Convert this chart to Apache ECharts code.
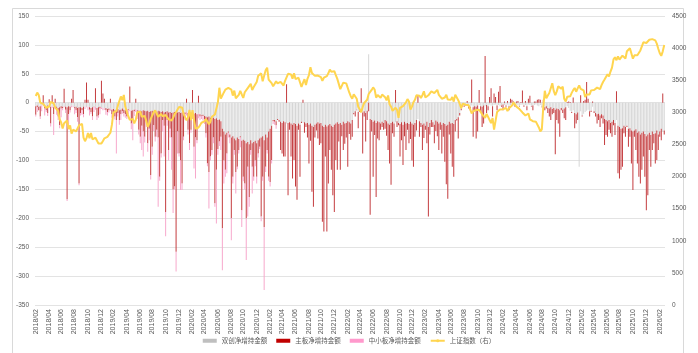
<!DOCTYPE html>
<html>
<head>
<meta charset="utf-8">
<script src="https://cdn.jsdelivr.net/npm/echarts@6/dist/echarts.min.js"></script>
<style>
  html, body { margin: 0; padding: 0; background: #fff; }
  #chart { width: 698px; height: 353px; }
</style>
</head>
<body>
<div id="chart"></div>
<script>
// x-axis month labels (every second month)
const monthTicks = [
  '2018/02','2018/04','2018/06','2018/08','2018/10','2018/12',
  '2019/02','2019/04','2019/06','2019/08','2019/10','2019/12',
  '2020/02','2020/04','2020/06','2020/08','2020/10','2020/12',
  '2021/02','2021/04','2021/06','2021/08','2021/10','2021/12',
  '2022/02','2022/04','2022/06','2022/08','2022/10','2022/12',
  '2023/02','2023/04','2023/06','2023/08','2023/10','2023/12',
  '2024/02','2024/04','2024/06','2024/08','2024/10','2024/12',
  '2025/02','2025/04','2025/06','2025/08','2025/10','2025/12',
  '2026/02'
];

// weekly net increase of holdings, ChiNext + STAR (双创)
const shuangchuang = [
  -6,-5,-7,-6,-5,-4,-6,-7,-5,-6,   -7,-6,-8,-6,-7,-9,-8,-6,-7,-6,
  -7,-8,-6,-7,-5,-6,-8,-7,-9,-8,   -8,-9,-7,-8,-6,-7,-8,-9,-8,-7,
  -7,-9,-8,-7,-8,-9,-10,-9,-11,-10, -10,-12,-11,-13,-12,-11,-13,-12,-10,-12,
  -13,-12,-11,-12,-14,-13,-12,-11,-13,-14, -14,-15,-13,-14,-15,-14,-16,-15,-14,-16,
  -15,-16,-14,-15,-16,-15,-17,-16,-15,-17, -16,-18,-17,-16,-18,-17,-16,-18,-17,-16,
  -17,-16,-18,-19,-17,-18,-19,-18,-20,-19, -20,-22,-21,-23,-24,-25,-24,-26,-27,-26,
  -28,-27,-30,-29,-32,-45,-50,-55,-52,-50, -55,-60,-58,-62,-65,-60,-63,-58,-66,-64,
  -66,-70,-68,-72,-65,-70,-68,-66,-70,-65, -62,-60,-58,-65,-55,-60,-50,-45,-40,-30,
  -30,-32,-28,-30,-33,-35,-32,-34,-36,-35, -34,-36,-38,-35,-37,-40,-36,-38,-33,-35,
  -34,-36,-35,-38,-36,-40,-42,-38,-36,-34, -36,-35,-40,-42,-38,-41,-39,-37,-40,-42,
  -38,-36,-34,-37,-35,-38,-33,-36,-35,-32, -34,-36,-30,-18,-15,-12,-16,-14,-13,-17,
  -15,-18,-14,84,-28,-30,-33,-31,-35,-32,  -34,-36,-33,-35,-30,-32,-36,-38,-35,-33,
  -36,-34,-32,-35,-37,-34,-38,-33,-36,-35, -37,-33,-36,-38,-35,-30,-28,-32,-35,-38,
  -36,-40,-33,-42,-35,-30,-34,-38,-31,-33, -36,-34,-38,-35,-37,-40,-38,-33,-36,-35,
  -37,-30,-28,-25,-18,-10,-6,-5,-4,-5,     -6,-7,-5,-8,-6,-7,-5,-4,-6,-7,
  -5,-6,-4,-6,-3,-5,-6,-4,-3,-5,           -4,-6,-5,-3,-4,-5,-3,-6,-4,-3,
  -5,-4,-3,-5,-6,-4,-3,-5,-4,-6,           -3,-4,-6,-5,-4,-3,-5,-6,-4,-7,
  -5,-8,-6,-9,-10,-8,-11,-9,-12,-10,       -11,-13,-9,-12,-10,-8,-6,-9,-14,-16,
  -13,-18,-20,-17,-111,-15,-22,-19,-16,-14, -12,-15,-14,-7,-15,-18,-20,-19,-22,-20,
  -22,-28,-30,-32,-30,-35,-33,-30,-35,-30, -40,-42,-45,-44,-40,-42,-40,-45,-44,-48,
  -50,-48,-46,-52,-50,-55,-52,-50,-54,-58, -55,-52,-56,-50,-54,-53,-48,-55,-50,-45,
  -50,-48
];

// weekly net increase of holdings, main board (主板)
const mainBoard = [
  -15,-3,-6,-18,0,13,-4,-6,-13,6,         -29,13,-12,7,-6,-15,-31,-4,-2,24,
  -5,-159,-14,-6,7,22,-2,-6,-16,-132,     -10,-4,-13,5,35,5,-4,-7,-16,-1,
  25,-15,-14,-3,38,16,7,-4,-5,-3,         7,-8,-5,-11,-18,-7,-17,-8,-5,-6,
  -7,-12,-1,28,-22,-17,-3,7,-3,-33,       -45,-25,-37,-45,-15,-56,-29,-110,-62,-23,
  -44,-31,-46,-113,-72,-15,-23,-173,-15,-65, -29,-42,-133,-129,-240,-33,-72,-82,-123,-43,
  -3,7,-29,-51,-30,22,-57,-42,-45,12,     -4,-1,-2,-6,-29,-80,-96,-67,-55,-34,
  -146,-89,-50,-38,-27,-172,-50,-61,-36,-2, -5,-140,-70,-20,-55,-51,-19,-2,-120,-64,
  -74,-130,-43,-91,-17,-41,-60,-34,-58,-23, -14,-137,-70,-150,-56,-22,-78,-92,-59,-2,
  -3,-7,-2,-3,-49,-53,-61,-59,32,-125,    -13,-57,-93,-64,-108,-128,-11,-90,-2,5,
  -18,-6,-25,-67,-30,-114,-138,-22,-12,-28, -37,-35,-166,-181,-55,-182,-101,-45,-76,-118,
  -151,-63,-82,-30,-81,-20,-49,-35,-25,-79, -20,-28,-29,-2,-9,-1,-28,-2,25,-71,
  -9,-49,-16,-15,-166,-20,-95,-25,-128,-30, -31,-11,-9,-12,-15,-25,-46,-67,-107,-20,
  -23,22,-10,-4,-56,-31,-70,-25,-46,-12,  -33,-30,-64,-73,-24,-18,13,-27,-7,-44,
  -25,-7,-37,-155,-20,-12,-8,-32,-18,-25, -46,-13,-50,-24,-65,-101,-128,-22,-52,-76,
  -91,-20,-3,-37,-4,-3,-1,-2,-1,3,        -4,-6,40,-51,-7,-55,-45,22,-12,-35,
  -31,81,-14,-7,10,25,-18,16,10,-8,       19,29,-2,-10,2,-2,3,-7,7,5,
  2,-3,2,3,-1,1,21,-2,3,-7,               7,12,-1,-8,2,2,5,6,5,-1,
  5,-5,-4,-9,-14,-22,-9,-9,-77,-20,       -25,-46,-4,-6,-17,-22,1,2,1,-2,
  9,-26,-16,-13,0,13,-2,3,5,36,           7,-9,-2,2,-3,-6,-16,-11,-20,-7,
  -14,-45,-26,-27,-17,-18,-26,-9,-21,20,  -82,-89,-71,-67,-13,-17,-2,-31,-15,-57,
  -101,-11,-36,-53,-78,-85,-64,-43,-74,-128, -105,-30,-55,-32,-16,-52,-51,-27,-9,-20,
  16,-7
];

// weekly net increase of holdings, SME board (中小板), until the board merger
const smeBoard = [
  -3,-8,0,-4,-10,-2,-12,-3,-5,-2,         -5,-3,-36,-4,-8,-6,-5,-15,-4,-2,
  -6,-3,-18,-4,-3,-2,-10,-5,-8,-3,        -4,-8,-5,-3,-2,-6,-10,-3,-6,-8,
  -5,-6,-4,-10,-3,-4,-2,-8,-6,-4,         -4,-6,-8,-5,-58,-6,-8,-10,-4,-6,
  -6,-4,-8,-3,-10,-35,-8,-5,-12,-8,       -11,-42,-43,-10,-12,-15,-20,-8,-14,-10,
  -8,-12,-120,-7,-7,-20,-53,-42,-10,-18,  -15,-56,-41,-5,-34,-38,-5,-51,-11,-6,
  -10,-6,-8,-12,-5,-10,-38,-71,-5,-8,     -6,-5,-8,-8,-7,-5,-63,-7,-8,-10,
  -6,-93,-10,-8,-23,-73,-40,-12,-34,-8,   -10,-38,-12,-8,-37,-4,-6,-17,-29,-8,
  -10,-72,-86,-17,-8,-46,-7,-10,-12,-7,   -4,-8,-7,-109,-9,-6,-7,-8,-6,-5,
  -5,-6
];

// Shanghai Composite, weekly close (right axis)
const sseIndex = [
  3254,3307,3269,3152,3169,3131,3159,3071,3082,3091,3163,3193,3141,3075,3067,3022,2889,2847,2747,2831,
  2829,2873,2740,2795,2669,2729,2725,2702,2682,2797,2821,2821,2606,2550,2598,2676,2598,2679,2579,2588,
  2605,2593,2516,2494,
  2514,2554,2596,2601,2618,2618,2682,2804,2994,2969,3022,3104,3090,3247,3189,3270,3086,3078,2939,2882,
  2853,2898,2827,2882,3001,2979,3011,2930,2924,2944,2867,2774,2824,2898,2886,2999,3031,3006,2932,2905,
  2973,2938,2954,2958,2964,2891,2886,2871,2912,2968,3005,3005,
  3083,3092,3075,2977,2977,2876,2917,3039,2880,3034,2887,2745,2772,2764,2797,2838,2809,2860,2895,2868,
  2813,2852,2930,2920,2967,2980,3153,3383,3214,3197,3310,3354,3360,3380,3404,3355,3260,3338,3219,3218,
  3272,3336,3278,3225,3312,3310,3378,3408,3444,3347,3395,3397,
  3473,3570,3566,3607,3483,3497,3655,3696,3509,3502,3454,3405,3418,3484,3451,3427,3474,3447,3418,3490,
  3487,3600,3592,3590,3525,3607,3518,3524,3539,3550,3397,3458,3517,3427,3522,3581,3703,3613,3613,3568,
  3592,3572,3582,3547,3491,3539,3560,3564,3607,3666,3632,3618,3640,
  3580,3521,3522,3361,3361,3462,3491,3451,3447,3309,3251,3212,3282,3251,3211,3087,3047,3001,3084,3146,
  3131,3195,3285,3316,3349,3388,3356,3228,3270,3253,3227,3276,3258,3236,3186,3262,3126,3088,3024,3024,
  3071,3038,2916,3070,3087,3097,3101,3156,3206,3167,3045,3089,
  3158,3195,3265,3263,3260,3224,3267,3328,3230,3250,3265,3273,3327,3338,3301,3323,3350,3272,3283,3212,
  3230,3231,3273,3198,3202,3197,3237,3167,3276,3288,3189,3131,3064,3133,3116,3117,3132,3110,3088,2983,
  3017,3030,3038,3054,3041,3031,2969,2942,2914,2975,
  2929,2881,2832,2910,2730,2866,3004,3027,3046,3055,3048,3041,3069,3019,3065,3088,3105,3155,3154,3089,
  3087,3051,3033,2998,2967,2950,2971,2982,2891,2905,2862,2879,2855,2842,2765,2704,2736,3088,3336,3217,
  3261,3300,3272,3452,3331,3268,3326,3404,3392,3368,3400,
  3211,3169,3241,3253,3250,3303,3346,3379,3321,3373,3419,3364,3351,3342,3238,3277,3296,3279,3342,3367,
  3348,3347,3385,3377,3360,3424,3473,3510,3534,3593,3560,3635,3697,3825,3858,3812,3870,3820,3828,3883,
  3897,3839,3950,3954,3997,3990,3835,3888,3903,3889,3890,3964,
  3990,4090,4120,4080,4105,4130,4110,4140,4160,4120,4070,3990,3920,3880,3950,4050
];

// weekly category axis starting in early February 2018
function buildWeeks(n) {
  const out = [];
  const t0 = Date.UTC(2018, 1, 2);
  const pad = v => (v < 10 ? '0' : '') + v;
  for (let i = 0; i < n; i++) {
    const d = new Date(t0 + i * 7 * 86400000);
    out.push(d.getUTCFullYear() + '/' + pad(d.getUTCMonth() + 1) + '/' + pad(d.getUTCDate()));
  }
  return out;
}
const weeks = buildWeeks(sseIndex.length);
// a month label sits on the first week of that month
const showLabel = weeks.map((w, i) => {
  const m = w.slice(0, 7);
  return monthTicks.includes(m) && (i === 0 || weeks[i - 1].slice(0, 7) !== m);
});

const numFont = "'Liberation Sans', Arial, sans-serif";
const cjkFont = "'Noto Sans CJK SC', sans-serif";
const textColor = '#595959';

const chart = echarts.init(document.getElementById('chart'), null, { renderer: 'canvas' });
chart.setOption({
  animation: false,
  backgroundColor: '#ffffff',
  graphic: [{
    type: 'rect',
    shape: { x: 12.5, y: 8.5, width: 671, height: 360 },
    style: { fill: 'none', stroke: '#d9d9d9', lineWidth: 1 },
    silent: true
  }],
  grid: { left: 35, right: 33, top: 16, bottom: 48, containLabel: false },
  legend: {
    bottom: 4,
    left: 'center',
    itemWidth: 14,
    itemHeight: 4,
    itemGap: 9,
    textStyle: { color: textColor, fontSize: 6.5, fontFamily: cjkFont },
    data: [
      { name: '双创净增持金额', icon: 'rect', itemStyle: { color: '#bfbfbf' } },
      { name: '主板净增持金额', icon: 'rect', itemStyle: { color: '#c00000' } },
      { name: '中小板净增持金额', icon: 'rect', itemStyle: { color: '#ff99cc' } },
      { name: '上证指数（右）' }
    ]
  },
  xAxis: {
    type: 'category',
    data: weeks,
    boundaryGap: true,
    axisLine: { show: false, onZero: false },
    axisTick: { show: false },
    splitLine: { show: false },
    axisLabel: {
      interval: (idx) => showLabel[idx],
      formatter: (v) => v.slice(0, 7),
      rotate: 90,
      margin: 4,
      color: textColor,
      fontSize: 7,
      fontFamily: numFont
    }
  },
  yAxis: [{
    type: 'value',
    min: -350, max: 150, interval: 50,
    axisLine: { show: false },
    axisTick: { show: false },
    splitLine: { lineStyle: { color: '#e3e3e3', width: 1 } },
    axisLabel: { color: textColor, fontSize: 6.5, fontFamily: numFont, margin: 6 }
  }, {
    type: 'value',
    min: 0, max: 4500, interval: 500,
    axisLine: { show: false },
    axisTick: { show: false },
    splitLine: { show: false },
    axisLabel: {
      color: textColor, fontSize: 6.5, fontFamily: numFont, margin: 7,
      formatter: (v) => String(v)
    }
  }],
  series: [{
    name: '双创净增持金额',
    type: 'bar',
    stack: 'flow',
    data: shuangchuang,
    barCategoryGap: '45%',
    itemStyle: { color: '#d6d6d6' }
  }, {
    name: '主板净增持金额',
    type: 'bar',
    stack: 'flow',
    data: mainBoard,
    itemStyle: { color: '#c43c3f' }
  }, {
    name: '中小板净增持金额',
    type: 'bar',
    stack: 'flow',
    data: smeBoard,
    itemStyle: { color: '#f7a8cc' }
  }, {
    name: '上证指数（右）',
    type: 'line',
    yAxisIndex: 1,
    data: sseIndex,
    symbol: 'none',
    smooth: false,
    lineStyle: { color: '#ffd54f', width: 2 },
    itemStyle: { color: '#ffd54f' },
    z: 5
  }]
});
</script>
</body>
</html>
